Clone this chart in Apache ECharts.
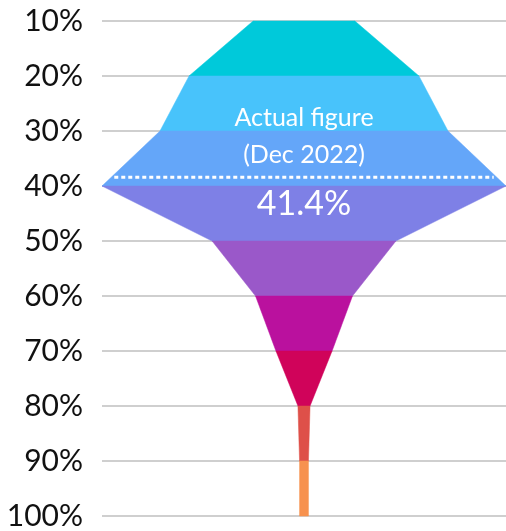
<!DOCTYPE html>
<html>
<head>
<meta charset="utf-8">
<style>
  html, body { margin: 0; padding: 0; background: #fff; }
  #chart { width: 506px; height: 531px; }
</style>
<script src="https://cdn.jsdelivr.net/npm/echarts@6/dist/echarts.min.js"></script>
</head>
<body>
<div id="chart"></div>
<script>
// Levels (y axis, percent) and relative shape width at each level (100 = widest)
const levels = [10, 20, 30, 40, 50, 60, 70, 80, 90, 100];
const widths = [25.2, 56.9, 71.3, 100, 45.5, 24.0, 13.9, 3.0, 2.2, 2.2];
const bandColors = ['#00C9DA', '#48C3FB', '#64A6F9', '#7E80E6', '#9A58C9', '#BA119E', '#D0035A', '#DE5049', '#F7924F'];
const markerLevel = 38.4;            // dotted line position
const markerTitle = ['Actual figure', '(Dec 2022)'];
const markerValue = '41.4%';

const bands = [];
for (let i = 0; i < levels.length - 1; i++) {
  bands.push([levels[i], levels[i + 1], widths[i], widths[i + 1]]);
}

function widthAt(level) {
  for (let i = 0; i < levels.length - 1; i++) {
    if (level >= levels[i] && level <= levels[i + 1]) {
      const t = (level - levels[i]) / (levels[i + 1] - levels[i]);
      return widths[i] + t * (widths[i + 1] - widths[i]);
    }
  }
  return 0;
}

const FONT = 'Lato';

const chart = echarts.init(document.getElementById('chart'), null, { renderer: 'canvas' });
chart.setOption({
  animation: false,
  grid: { left: 102, right: 0, top: 21, bottom: 15, containLabel: false },
  xAxis: { type: 'value', min: -50, max: 50, show: false },
  yAxis: {
    type: 'value', inverse: true, min: 10, max: 100, interval: 10,
    axisLine: { show: false }, axisTick: { show: false },
    axisLabel: { formatter: '{value}%', color: '#111', fontSize: 30, fontWeight: 'normal', fontFamily: FONT, margin: 19 },
    splitLine: { show: true, lineStyle: { color: '#BFBFBF', width: 1.5 } }
  },
  series: [
    {
      type: 'custom',
      data: bands,
      encode: { y: [0, 1], x: [2, 3] },
      renderItem: function (params, api) {
        const y0 = api.value(0), y1 = api.value(1), w0 = api.value(2), w1 = api.value(3);
        const pts = [
          api.coord([-w0 / 2, y0]), api.coord([w0 / 2, y0]),
          api.coord([w1 / 2, y1]), api.coord([-w1 / 2, y1])
        ];
        const c = bandColors[params.dataIndex];
        return {
          type: 'polygon',
          shape: { points: pts },
          style: { fill: c, stroke: c, lineWidth: 0.5 }
        };
      },
      z: 2
    },
    {
      type: 'custom',
      data: [[markerLevel]],
      renderItem: function (params, api) {
        const lv = api.value(0);
        const w = widthAt(lv);
        const a = api.coord([-w / 2, lv]);
        const b = api.coord([w / 2, lv]);
        const cx = api.coord([0, lv])[0];
        return {
          type: 'group',
          children: [
            { type: 'line', shape: { x1: a[0] + 3, y1: a[1], x2: b[0] - 3, y2: b[1] },
              style: { stroke: '#fff', lineWidth: 3, lineDash: [4, 3] } },
            { type: 'text', style: { text: markerTitle[0], x: cx, y: a[1] - 59, align: 'center', verticalAlign: 'middle',
              fill: '#fff', font: '25px ' + FONT } },
            { type: 'text', style: { text: markerTitle[1], x: cx, y: a[1] - 22, align: 'center', verticalAlign: 'middle',
              fill: '#fff', font: '25px ' + FONT } },
            { type: 'text', style: { text: markerValue, x: cx, y: a[1] + 27, align: 'center', verticalAlign: 'middle',
              fill: '#fff', font: '34px ' + FONT } }
          ]
        };
      },
      z: 3
    }
  ]
});
</script>
</body>
</html>
